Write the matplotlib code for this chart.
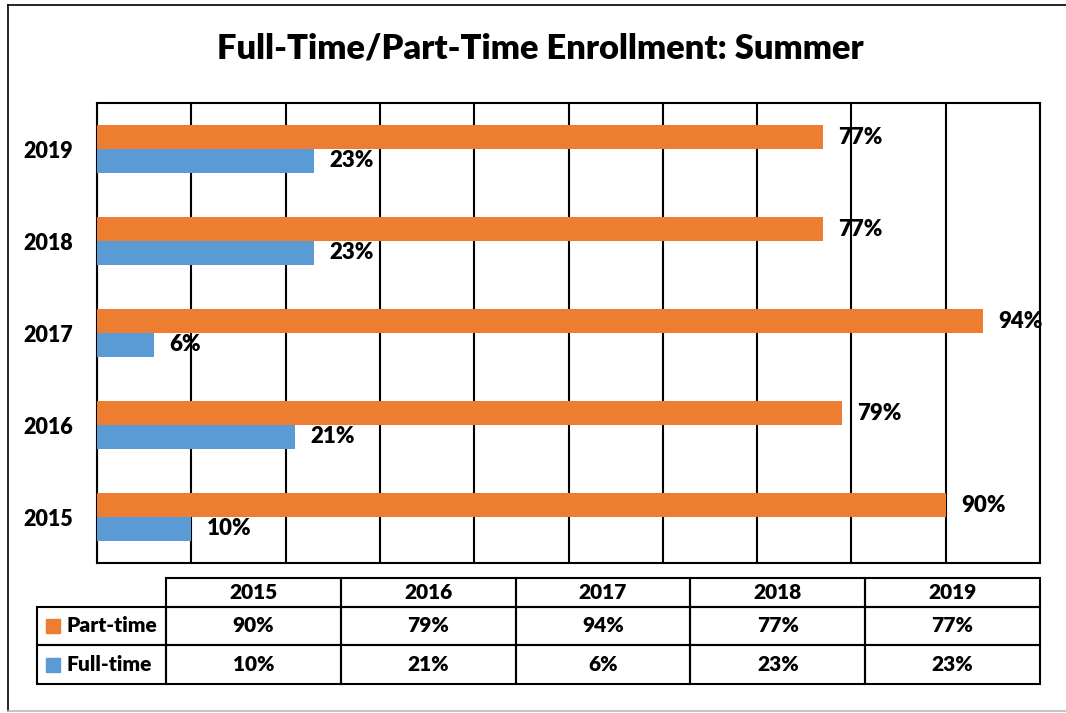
import matplotlib
matplotlib.use('Agg')
import matplotlib.pyplot as plt
from matplotlib.patches import Rectangle
from matplotlib.lines import Line2D
import numpy as np

years = ['2015', '2016', '2017', '2018', '2019']
part_time = [90, 79, 94, 77, 77]
full_time = [10, 21, 6, 23, 23]
series_names = ['Part-time', 'Full-time']
colors = ['#ED7D31', '#5B9BD5']

plt.rcParams['font.family'] = ['Lato', 'DejaVu Sans']
plt.rcParams['font.weight'] = 'heavy'
WT = 'heavy'

W, H = 1066, 713
fig = plt.figure(figsize=(W / 100, H / 100), dpi=100)

def fx(px):
    return px / W

def fy(py):
    return 1 - py / H

# main bar chart
ax = fig.add_axes([fx(97), fy(563), fx(1040) - fx(97), fy(103) - fy(563)])
y = np.arange(len(years))
bh = 0.26
bars_pt = ax.barh(y + bh / 2, part_time, bh, color=colors[0], zorder=3)
bars_ft = ax.barh(y - bh / 2, full_time, bh, color=colors[1], zorder=3)
ax.bar_label(bars_pt, fmt='%d%%', padding=11, fontsize=16, fontweight=WT)
ax.bar_label(bars_ft, fmt='%d%%', padding=11, fontsize=16, fontweight=WT)

ax.set_xlim(0, 100)
ax.set_ylim(-0.5, len(years) - 0.5)
ax.set_xticks(np.arange(0, 101, 10))
ax.set_xticklabels([])
ax.tick_params(axis='x', length=0)
ax.set_yticks(y)
ax.set_yticklabels(years, fontsize=15.5, fontweight=WT)
ax.tick_params(axis='y', length=0, pad=17)
ax.grid(axis='x', color='black', linewidth=1.5, zorder=0)
for s in ax.spines.values():
    s.set_linewidth(1.5)
    s.set_color('black')

fig.text(fx(540), fy(48), 'Full-Time/Part-Time Enrollment: Summer',
         ha='center', va='center', fontsize=24.8, fontweight=WT)

# data table under the chart (drawn in pixel-like coordinates)
tx0, tx1 = 37, 1040
ty0, ty1 = 578, 684
tax = fig.add_axes([fx(tx0), fy(ty1), fx(tx1) - fx(tx0), fy(ty0) - fy(ty1)])
tax.set_axis_off()
tax.set_xlim(0, tx1 - tx0)
tax.set_ylim(ty1 - ty0, 0)

label_w = 129
col_w = (tx1 - tx0 - label_w) / len(years)
row_h = [29, 38, 39]
row_top = np.concatenate([[0], np.cumsum(row_h)[:-1]])

def cell(x, yt, w, h, txt, ha='center', tx=None):
    tax.add_patch(Rectangle((x, yt), w, h, fill=False, edgecolor='black',
                            linewidth=1.5, clip_on=False))
    if txt:
        tax.text(x + w / 2 if tx is None else tx, yt + h / 2, txt, ha=ha, va='center',
                 fontsize=15, fontweight=WT)

for j, yr in enumerate(years):
    cell(label_w + j * col_w, row_top[0], col_w, row_h[0], yr)
for i, (name, vals, col) in enumerate(zip(series_names, [part_time, full_time], colors)):
    r = i + 1
    cell(0, row_top[r], label_w, row_h[r], name, ha='left', tx=29)
    tax.plot(16, row_top[r] + row_h[r] / 2, marker='s', markersize=10,
             color=col, clip_on=False)
    for j, v in enumerate(vals):
        cell(label_w + j * col_w, row_top[r], col_w, row_h[r], f'{v}%')

# outer frame of the chart area
fig.add_artist(Line2D([fx(8), 1], [fy(5), fy(5)], color='black', linewidth=1.2))
fig.add_artist(Line2D([fx(8), fx(8)], [fy(5), fy(711)], color='black', linewidth=1.2))
fig.add_artist(Line2D([fx(8), 1], [fy(711), fy(711)], color='#bbbbbb', linewidth=1.2))

fig.savefig('out.png', dpi=100, facecolor='white')
